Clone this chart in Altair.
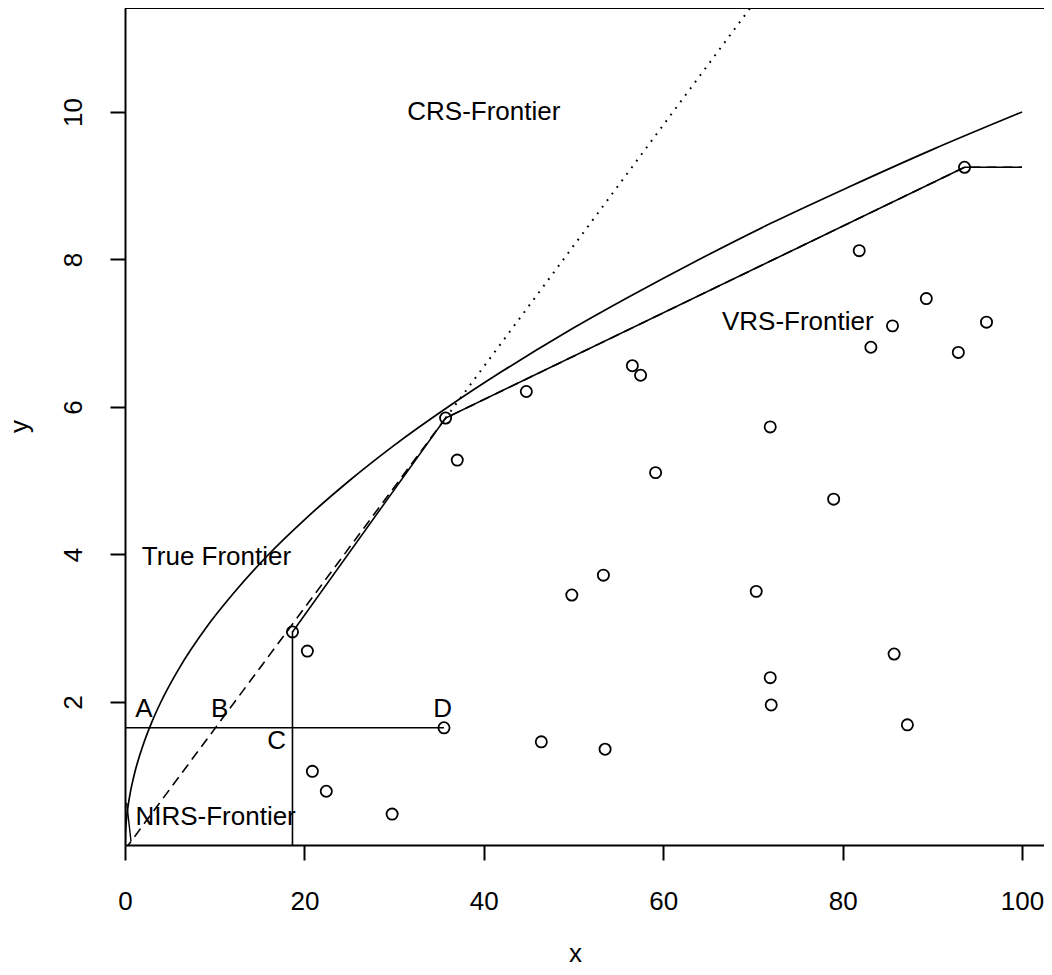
import altair as alt
import pandas as pd

# ---- observed units (x = input, y = output) ----
pt_x = [18.67, 20.33, 20.89, 22.44, 29.78, 35.56, 35.74, 37.04, 44.74, 46.41,
        49.81, 53.33, 53.52, 56.56, 57.48, 59.15, 70.37, 71.93, 71.93, 72.04,
        79.0, 81.85, 83.15, 85.56, 85.74, 87.22, 89.33, 92.9, 93.59, 96.04]
pt_y = [2.95, 2.69, 1.06, 0.79, 0.48, 1.65, 5.85, 5.28, 6.21, 1.46,
        3.45, 3.72, 1.36, 6.56, 6.43, 5.11, 3.50, 5.73, 2.33, 1.96,
        4.75, 8.12, 6.81, 7.10, 2.65, 1.69, 7.47, 6.74, 9.25, 7.15]

# ---- true frontier ----
true_x = [0, 0.05, 0.2, 0.5, 1, 2, 3, 4, 6, 9, 12, 16, 20, 25, 30, 36,
          42, 49, 56, 64, 72, 81, 90, 100]
true_y = [0, 0.22, 0.45, 0.71, 1.0, 1.41, 1.73, 2.0, 2.45, 3.0, 3.46, 4.0,
          4.47, 5.0, 5.48, 6.0, 6.48, 7.0, 7.48, 8.0, 8.49, 9.0, 9.49, 10.0]

# ---- estimated frontiers ----
crs_x = [35.74, 69.7]
crs_y = [5.85, 11.41]

nirs_x = [0, 35.74, 93.59, 100]
nirs_y = [0, 5.85, 9.25, 9.25]

vrs_x = [18.67, 18.67, 35.74, 93.59, 100]
vrs_y = [0, 2.95, 5.85, 9.25, 9.25]

ref_x = [0, 35.56]
ref_y = [1.65, 1.65]

stub_x = [0.19, 0.67]
stub_y = [0.63, 0.11]

label_text = ["CRS-Frontier", "VRS-Frontier", "True Frontier", "NIRS-Frontier",
              "A", "B", "C", "D"]
label_x = [40.0, 75.0, 10.2, 10.1, 2.1, 10.55, 16.9, 35.4]
label_y = [10.0, 7.15, 3.97, 0.44, 1.9, 1.9, 1.47, 1.9]

x_ticks = [0, 20, 40, 60, 80, 100]
y_ticks = [2, 4, 6, 8, 10]

XDOM = [0, 102.45]
YDOM = [0.061, 11.41]
W, H = 919, 837
FONT = "Liberation Sans"
FS = 26


def line_df(xs, ys):
    return pd.DataFrame({"x": xs, "y": ys, "o": list(range(len(xs)))})


x_axis = alt.Axis(values=x_ticks, title="x", grid=False, tickSize=15, tickWidth=2,
                  domainWidth=2, domainColor="black", tickColor="black",
                  labelColor="black", titleColor="black", labelFont=FONT,
                  titleFont=FONT, labelFontSize=FS, titleFontSize=FS,
                  titleFontWeight="normal", labelPadding=28, labelFlush=False,
                  labelAlign="center", labelBaseline="top",
                  titleX=450, titleY=116, titleBaseline="alphabetic",
                  titleAlign="center")
y_axis = alt.Axis(values=y_ticks, title="y", grid=False, tickSize=15, tickWidth=2,
                  domainWidth=2, domainColor="black", tickColor="black",
                  labelColor="black", titleColor="black", labelFont=FONT,
                  titleFont=FONT, labelFontSize=FS, titleFontSize=FS,
                  titleFontWeight="normal", labelPadding=29, labelFlush=False,
                  labelAngle=270, labelAlign="center", labelBaseline="alphabetic",
                  titleAngle=270, titleX=-98, titleY=418, titleAlign="center",
                  titleBaseline="alphabetic")


def X():
    return alt.X("x:Q", scale=alt.Scale(domain=XDOM, nice=False, zero=False), axis=x_axis)


def Y():
    return alt.Y("y:Q", scale=alt.Scale(domain=YDOM, nice=False, zero=False), axis=y_axis)


true_line = alt.Chart(line_df(true_x, true_y)).mark_line(
    color="black", strokeWidth=1.7, interpolate="monotone", clip=True
).encode(x=X(), y=Y(), order="o:Q")

crs_line = alt.Chart(line_df(crs_x, crs_y)).mark_line(
    color="black", strokeWidth=2, strokeDash=[1.8, 6.4], clip=True
).encode(x=X(), y=Y(), order="o:Q")

nirs_line = alt.Chart(line_df(nirs_x, nirs_y)).mark_line(
    color="black", strokeWidth=1.6, strokeDash=[10, 6], clip=True
).encode(x=X(), y=Y(), order="o:Q")

vrs_line = alt.Chart(line_df(vrs_x, vrs_y)).mark_line(
    color="black", strokeWidth=1.6, clip=True
).encode(x=X(), y=Y(), order="o:Q")

ref_line = alt.Chart(line_df(ref_x, ref_y)).mark_line(
    color="black", strokeWidth=1.6, clip=True
).encode(x=X(), y=Y(), order="o:Q")

stub_line = alt.Chart(line_df(stub_x, stub_y)).mark_line(
    color="black", strokeWidth=1.4, clip=True
).encode(x=X(), y=Y(), order="o:Q")

points = alt.Chart(pd.DataFrame({"x": pt_x, "y": pt_y})).mark_point(
    shape="circle", filled=False, size=125, strokeWidth=1.8, color="black", opacity=1
).encode(x=X(), y=Y())

labels = alt.Chart(pd.DataFrame({"x": label_x, "y": label_y, "t": label_text})).mark_text(
    font=FONT, fontSize=FS, color="black", align="center", baseline="middle"
).encode(x=X(), y=Y(), text="t:N")

top_rule = alt.Chart(pd.DataFrame({"a": [0]})).mark_rule(
    color="black", strokeWidth=2
).encode(x=alt.value(0), x2=alt.value(W), y=alt.value(0))

chart = alt.layer(
    true_line, crs_line, nirs_line, vrs_line, ref_line, stub_line, points, labels, top_rule
).properties(
    width=W, height=H,
    autosize=alt.AutoSizeParams(type="none"),
    padding={"left": 117, "top": 0, "right": 0, "bottom": 122},
    background="white",
).configure_view(stroke=None)

chart.save("out.html", embed_options={"renderer": "svg", "actions": False})
